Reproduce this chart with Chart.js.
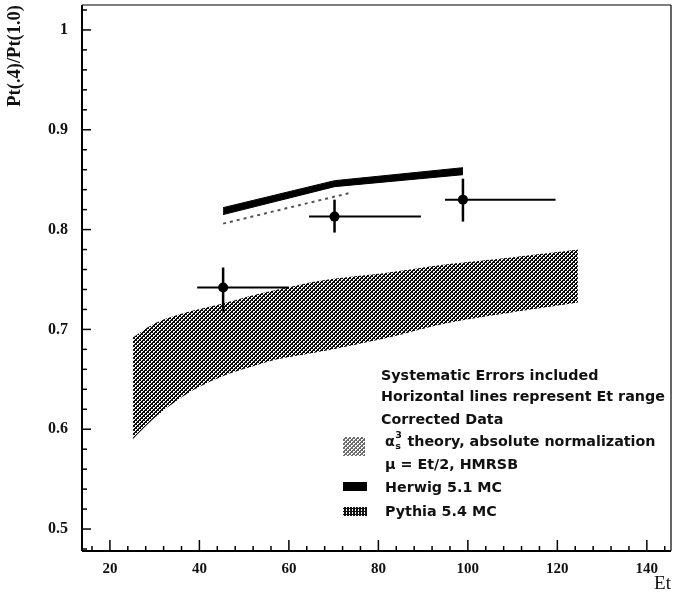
<!DOCTYPE html>
<html>
<head>
<meta charset="utf-8">
<script src="https://cdn.jsdelivr.net/npm/chart.js@4/dist/chart.umd.min.js"></script>
<style>
  html, body { margin: 0; padding: 0; background: #fff; }
  #wrap { width: 676px; height: 602px; }
</style>
</head>
<body>
<div id="wrap"><canvas id="c" width="676" height="602"></canvas></div>
<script>
// Theory band (alpha_s^3, absolute normalization): Et and lower/upper edge of Pt(.4)/Pt(1.0)
const theoryEt   = [25.1, 30.4, 37.8, 45.2, 52.7, 57.5, 67.4, 82.3, 95.0, 109.7, 124.6];
const theoryLow  = [0.590, 0.613, 0.637, 0.653, 0.664, 0.670, 0.678, 0.692, 0.706, 0.717, 0.727];
const theoryHigh = [0.692, 0.707, 0.718, 0.726, 0.735, 0.740, 0.749, 0.757, 0.765, 0.772, 0.780];

// Herwig 5.1 MC band
const herwigEt   = [45.3, 70.2, 98.9];
const herwigLow  = [0.815, 0.843, 0.855];
const herwigHigh = [0.822, 0.849, 0.862];

// Pythia 5.4 MC
const pythiaEt  = [45.3, 73.9];
const pythiaVal = [0.806, 0.837];

// Corrected data with systematic errors; horizontal bars give the Et range
const dataEt       = [45.3, 70.2, 98.9];
const dataVal      = [0.742, 0.813, 0.830];
const dataEtLow    = [39.5, 64.5, 94.9];
const dataEtHigh   = [60.0, 89.5, 119.6];
const dataValLow   = [0.718, 0.797, 0.808];
const dataValHigh  = [0.762, 0.830, 0.851];

// Axis ticks
const xTicks = [20, 40, 60, 80, 100, 120, 140];
const xTickLabels = ['20', '40', '60', '80', '100', '120', '140'];
const yTicks = [0.5, 0.6, 0.7, 0.8, 0.9, 1.0];
const yTickLabels = ['0.5', '0.6', '0.7', '0.8', '0.9', '1'];
const xMinorStep = 4;
const yMinorStep = 0.02;

const pts = (xs, ys) => xs.map((x, i) => ({ x: x, y: ys[i] }));

// Cross-hatched texture used for the theory band
const canvas = document.getElementById('c');
const ctx0 = canvas.getContext('2d');
function makeTile(size, cells, color) {
  const t = document.createElement('canvas');
  t.width = size; t.height = size;
  const g = t.getContext('2d');
  g.fillStyle = color;
  cells.forEach(([cx, cy]) => g.fillRect(cx, cy, 1, 1));
  return t;
}
const crossCells = [];
for (let i = 0; i < 4; i++) { crossCells.push([i, i]); crossCells.push([3 - i, i]); }
crossCells.push([0, 2]);
crossCells.push([2, 0]);
const crossTile = makeTile(4, crossCells, '#0a0a0a');
const crossPattern = ctx0.createPattern(crossTile, 'repeat');

const vertCells = [];
for (let yy = 0; yy < 3; yy++) { vertCells.push([0, yy]); vertCells.push([2, yy]); }
vertCells.push([1, 1]);
const vertPattern = ctx0.createPattern(makeTile(3, vertCells, '#111'), 'repeat');

function seg(ctx, x1, y1, x2, y2) {
  ctx.beginPath(); ctx.moveTo(x1, y1); ctx.lineTo(x2, y2); ctx.stroke();
}

// Error bars on the data points
const errorBars = {
  id: 'errorBars',
  afterDatasetsDraw(chart) {
    const { ctx, scales: { x, y } } = chart;
    ctx.save();
    ctx.strokeStyle = '#000';
    ctx.lineCap = 'butt';
    dataEt.forEach((et, i) => {
      const py = y.getPixelForValue(dataVal[i]);
      const px = x.getPixelForValue(et);
      ctx.lineWidth = 2;
      seg(ctx, x.getPixelForValue(dataEtLow[i]), py, x.getPixelForValue(dataEtHigh[i]), py);
      ctx.lineWidth = 2.5;
      seg(ctx, px, y.getPixelForValue(dataValLow[i]), px, y.getPixelForValue(dataValHigh[i]));
    });
    ctx.restore();
  }
};

// Frame with inward major / minor ticks
const frameTicks = {
  id: 'frameTicks',
  afterDraw(chart) {
    const { ctx, chartArea: a, scales: { x, y } } = chart;
    ctx.save();
    ctx.strokeStyle = '#000';
    ctx.lineWidth = 1.2;
    seg(ctx, a.left, a.top, a.right, a.top);
    seg(ctx, a.right, a.top, a.right, a.bottom);
    ctx.lineWidth = 2;
    seg(ctx, a.left, a.top, a.left, a.bottom);
    seg(ctx, a.left, a.bottom, a.right, a.bottom);
    ctx.lineWidth = 1.5;
    for (let v = Math.ceil(y.min / yMinorStep) * yMinorStep; v <= y.max + 1e-9; v += yMinorStep) {
      const p = y.getPixelForValue(v);
      const major = yTicks.some(t => Math.abs(t - v) < 1e-6);
      seg(ctx, a.left, p, a.left + (major ? 9 : 5), p);
    }
    for (let v = Math.ceil(x.min / xMinorStep) * xMinorStep; v <= x.max; v += xMinorStep) {
      const p = x.getPixelForValue(v);
      const major = xTicks.includes(v);
      seg(ctx, p, a.bottom, p, a.bottom - (major ? 11 : 5));
    }
    ctx.restore();
  }
};

// Annotation block with the legend keys
const notes = {
  id: 'notes',
  afterDraw(chart) {
    const { ctx } = chart;
    ctx.save();
    ctx.fillStyle = '#111';
    ctx.textBaseline = 'middle';
    ctx.textAlign = 'left';
    const f = 'bold 14.3px "DejaVu Sans"';
    const fs = 'bold 9.5px "DejaVu Sans"';
    ctx.font = f;
    ctx.fillText('Systematic Errors included', 381, 376);
    ctx.fillText('Horizontal lines represent Et range', 381, 397);
    ctx.fillText('Corrected Data', 381, 420);
    // alpha_s^3 with stacked super/subscript
    let tx = 385;
    ctx.fillText('\u03b1', tx, 442);
    tx += ctx.measureText('\u03b1').width;
    ctx.font = fs;
    ctx.fillText('3', tx + 0.5, 436);
    ctx.fillText('s', tx + 0.5, 447);
    tx += Math.max(ctx.measureText('3').width, ctx.measureText('s').width) + 1;
    ctx.font = f;
    ctx.fillText(' theory, absolute normalization', tx, 442);
    ctx.fillText('\u03bc = Et/2, HMRSB', 385, 465);
    ctx.fillText('Herwig 5.1 MC', 385, 488);
    ctx.fillText('Pythia 5.4 MC', 385, 512);
    // keys
    ctx.fillStyle = crossPattern;
    ctx.globalAlpha = 0.6;
    ctx.fillRect(343, 437, 22, 19);
    ctx.globalAlpha = 1;
    ctx.fillStyle = '#000';
    ctx.fillRect(343, 482, 24, 9);
    ctx.fillStyle = vertPattern;
    ctx.fillRect(343, 507, 24, 9);
    ctx.restore();
  }
};

const noEdgePadding = s => {
  s.paddingTop = 0; s.paddingBottom = 0; s.paddingLeft = 0; s.paddingRight = 0;
};

new Chart(canvas, {
  type: 'line',
  data: {
    datasets: [
      { data: pts(theoryEt, theoryLow), borderWidth: 0, pointRadius: 0, fill: false, tension: 0.3 },
      { data: pts(theoryEt, theoryHigh), borderWidth: 0, pointRadius: 0, fill: '-1',
        backgroundColor: crossPattern, tension: 0.3 },
      { data: pts(herwigEt, herwigLow), borderWidth: 1, borderColor: '#000', pointRadius: 0, fill: false },
      { data: pts(herwigEt, herwigHigh), borderWidth: 1, borderColor: '#000', pointRadius: 0, fill: '-1',
        backgroundColor: '#000' },
      { data: pts(pythiaEt, pythiaVal), borderWidth: 2, borderColor: '#555', borderDash: [3, 4],
        pointRadius: 0, fill: false },
      { data: pts(dataEt, dataVal), showLine: false, pointRadius: 5, pointBackgroundColor: '#000',
        pointBorderWidth: 0, fill: false }
    ]
  },
  options: {
    responsive: false,
    animation: false,
    devicePixelRatio: 1,
    layout: { padding: { top: 5, right: 3, left: 0, bottom: 0 } },
    plugins: { legend: { display: false }, tooltip: { enabled: false } },
    scales: {
      x: {
        type: 'linear', min: 13.76, max: 145.4,
        grid: { display: false, drawTicks: false },
        border: { display: false },
        afterBuildTicks: s => { s.ticks = xTicks.map(v => ({ value: v })); },
        afterFit: s => { s.height = 51; noEdgePadding(s); },
        ticks: {
          padding: 9, color: '#111', maxRotation: 0, autoSkip: false,
          font: { family: '"Liberation Serif"', size: 15, weight: 'bold' },
          callback: (v, i) => xTickLabels[i]
        },
        title: {
          display: true, text: 'Et', align: 'end', color: '#111',
          font: { family: '"Liberation Serif"', size: 19 },
          padding: { top: 0, bottom: 7 }
        }
      },
      y: {
        type: 'linear', min: 0.478, max: 1.025,
        grid: { display: false, drawTicks: false },
        border: { display: false },
        afterBuildTicks: s => { s.ticks = yTicks.map(v => ({ value: v })); },
        afterFit: s => { s.width = 82; noEdgePadding(s); },
        ticks: {
          padding: 14, color: '#111', autoSkip: false,
          font: { family: '"Liberation Serif"', size: 16, weight: 'bold' },
          callback: (v, i) => yTickLabels[i]
        },
        title: {
          display: true, text: 'Pt(.4)/Pt(1.0)', align: 'end', color: '#111',
          font: { family: '"Liberation Serif"', size: 18.5, weight: 'bold' },
          padding: { top: 4, bottom: 0 }
        }
      }
    }
  },
  plugins: [errorBars, frameTicks, notes]
});
</script>
</body>
</html>
